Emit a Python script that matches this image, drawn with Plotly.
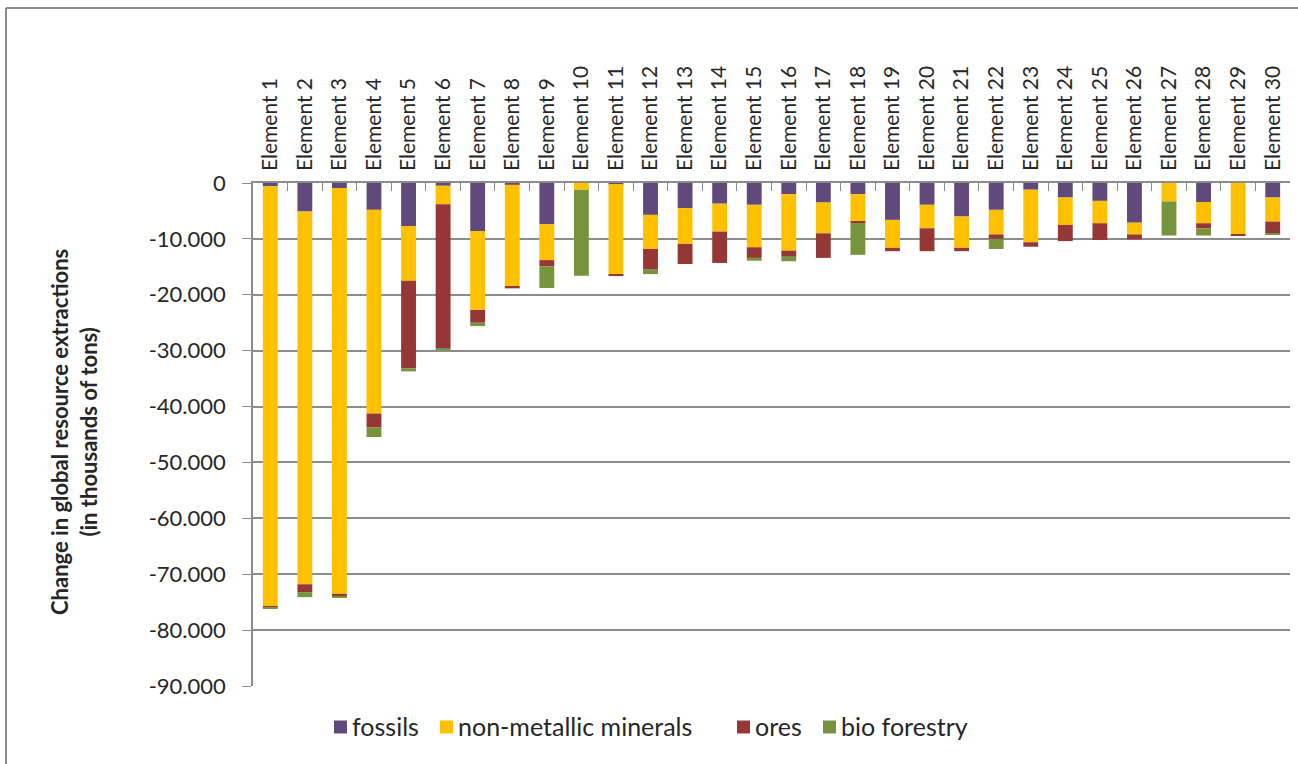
import plotly.graph_objects as go

# Change in global resource extractions per element (thousands of tons)
elements = [f"Element {i}" for i in range(1, 31)]

fossils = [-600, -5100, -900, -4800, -7700, -500, -8600, -300, -7400, 0,
           -200, -5700, -4500, -3700, -3900, -2000, -3500, -2000, -6600, -3900,
           -6000, -4800, -1200, -2600, -3200, -7100, 0, -3400, 0, -2600]
non_metallic = [-75200, -66700, -72600, -36450, -9800, -3300, -14100, -18300, -6400, -1200,
                -16200, -6100, -6400, -5000, -7600, -10100, -5500, -4900, -5000, -4200,
                -5600, -4400, -9400, -4900, -4000, -2100, -3300, -3800, -9200, -4300]
ores = [-100, -1400, -500, -2500, -15700, -25800, -2300, -250, -1100, 0,
        -250, -3700, -3600, -5600, -1900, -1100, -4400, -250, -600, -4100,
        -600, -800, -800, -2900, -3000, -900, 0, -900, -250, -2100]
bio_forestry = [-200, -900, -100, -1700, -500, -200, -600, 0, -3900, -15400,
                0, -800, 0, 0, -500, -800, 0, -5700, 0, 0,
                0, -1800, 0, 0, 0, 0, -6100, -1300, 0, -200]

y_ticks = list(range(-90000, 1, 10000))
y_tick_text = ["0" if v == 0 else f"-{abs(v) // 1000}.000" for v in y_ticks]

series_names = ["fossils", "non-metallic minerals", "ores", "bio forestry"]
series_values = [fossils, non_metallic, ores, bio_forestry]
series_colors = ["#604A7B", "#FFC000", "#953735", "#77933C"]

FONT = "Lato, 'Open Sans', sans-serif"
TEXT = "#262626"
GRID = "#8C8C8C"

fig = go.Figure()
for name, vals, color in zip(series_names, series_values, series_colors):
    fig.add_trace(go.Bar(x=elements, y=vals, name=name, showlegend=False,
                         marker=dict(color=color, line=dict(width=0))))

W, H = 1298, 764
L, R, T, B = 253, 8, 183, 78
pw, ph = W - L - R, H - T - B


def px_x(x):
    return (x - L) / pw


def px_y(y):
    return (H - B - y) / ph


fig.update_layout(
    width=W, height=H,
    margin=dict(l=L, r=R, t=T, b=B),
    barmode="relative",
    bargap=0.57,
    plot_bgcolor="white",
    paper_bgcolor="white",
    font=dict(family=FONT, color=TEXT, size=22),
    xaxis=dict(type="category", side="top", tickangle=-90,
               showline=True, linecolor=GRID, linewidth=1.5,
               ticks="inside", ticklen=8, tickcolor=GRID,
               tickson="boundaries", showgrid=False,
               ticklabelstandoff=6,
               tickfont=dict(size=21, family=FONT, color=TEXT)),
    yaxis=dict(range=[-90000, 0], tickvals=y_ticks, ticktext=y_tick_text,
               showline=True, linecolor=GRID, linewidth=1.5,
               ticks="outside", ticklen=9, tickcolor=GRID,
               ticklabelstandoff=12,
               showgrid=True, gridcolor=GRID, gridwidth=1.5,
               zeroline=False,
               tickfont=dict(size=22, family=FONT, color=TEXT)),
)

fig.add_annotation(
    text="<b>Change in global resource extractions</b><br><b>(in thousands of tons)</b>",
    xref="paper", yref="paper", x=px_x(74), y=px_y(432),
    xanchor="center", yanchor="middle", textangle=-90, showarrow=False,
    font=dict(size=22, family=FONT, color=TEXT),
)

# legend row below the plot: colour square followed by the series name
legend_left = [334, 440, 737, 823]
legend_mid_y = 727
box = 13
for name, color, x0 in zip(series_names, series_colors, legend_left):
    fig.add_shape(type="rect", xref="paper", yref="paper",
                  x0=px_x(x0), x1=px_x(x0 + box),
                  y0=px_y(legend_mid_y + box / 2), y1=px_y(legend_mid_y - box / 2),
                  fillcolor=color, line=dict(width=0))
    fig.add_annotation(text=name, xref="paper", yref="paper",
                       x=px_x(x0 + box + 3), y=px_y(legend_mid_y - 1),
                       xanchor="left", yanchor="middle", showarrow=False,
                       font=dict(size=25, family=FONT, color=TEXT))

# outer chart frame (top and left edges)
fig.add_shape(type="line", xref="paper", yref="paper",
              x0=px_x(6), x1=px_x(W), y0=px_y(8), y1=px_y(8),
              line=dict(color="#8C8C8C", width=2))
fig.add_shape(type="line", xref="paper", yref="paper",
              x0=px_x(6), x1=px_x(6), y0=px_y(8), y1=px_y(H),
              line=dict(color="#8C8C8C", width=2))

fig.write_html("out.html")
